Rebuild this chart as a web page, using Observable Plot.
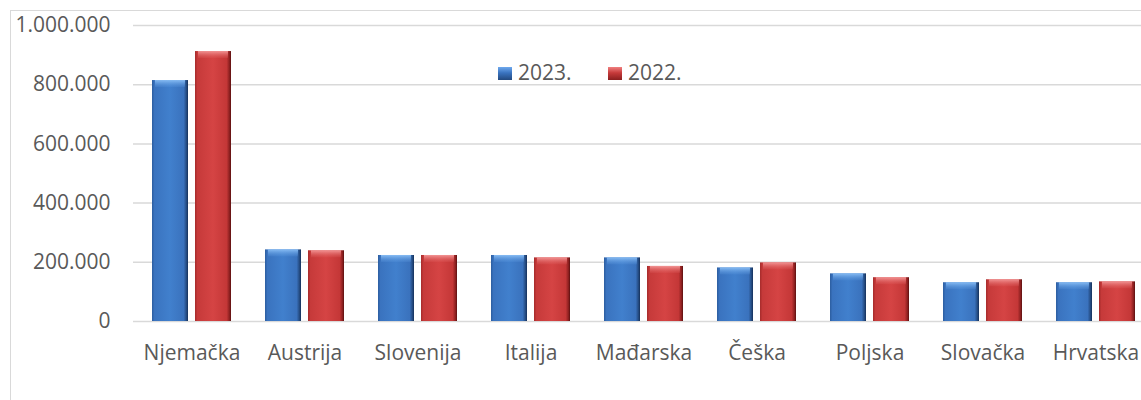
<!DOCTYPE html>
<html><head><meta charset="utf-8">
<script src="https://cdn.jsdelivr.net/npm/d3@7"></script>
<script src="https://cdn.jsdelivr.net/npm/@observablehq/plot@0.6"></script>
<style>
html,body{margin:0;padding:0;background:#fff;overflow:hidden;width:1141px;height:400px;}
#wrap{position:relative;width:1141px;height:400px;overflow:hidden;font-family:"Open Sans",sans-serif;}
#chart{position:absolute;left:0;top:0;}
#frame{position:absolute;left:10px;top:10px;width:1300px;height:600px;border:1px solid #d9d9d9;pointer-events:none;}
.item{position:absolute;top:58px;font-size:21px;color:#595959;white-space:nowrap;line-height:28px;}
.sw{position:absolute;left:0;top:9px;width:14px;height:13px;}
.item span.t{position:absolute;left:20px;top:0;}
</style></head><body>
<div id="wrap"><div id="frame"></div><div id="chart"></div><div id="legend"></div></div>
<script>
const countries = ["Njemačka","Austrija","Slovenija","Italija","Mađarska","Češka","Poljska","Slovačka","Hrvatska"];
const seriesNames = ["2023.","2022."];
const values2023 = [814000, 242000, 223000, 223000, 215000, 181000, 161000, 131000, 131000];
const values2022 = [912000, 239000, 223000, 215000, 186000, 198000, 148000, 141000, 134000];
const yTicks = [0, 200000, 400000, 600000, 800000, 1000000];

const rows2023 = countries.map((c, i) => ({country: c, series: seriesNames[0], value: values2023[i]}));
const rows2022 = countries.map((c, i) => ({country: c, series: seriesNames[1], value: values2022[i]}));

const fmt = d3.formatLocale({decimal: ",", thousands: ".", grouping: [3], currency: ["", "€"]}).format(",");

const svg = Plot.plot({
  width: 1160, height: 400,
  marginTop: 25, marginBottom: 79, marginLeft: 133, marginRight: 7,
  style: {fontFamily: '"Open Sans", sans-serif', fontSize: "21px", color: "#595959", background: "transparent", maxWidth: "none", overflow: "visible"},
  x: {domain: countries, paddingInner: 0.303, paddingOuter: 0.15, label: null, tickSize: 0, tickPadding: 24},
  y: {domain: [0, 1000000], ticks: yTicks, tickFormat: fmt, label: null, tickSize: 0, tickPadding: 23},
  marks: [
    Plot.ruleY(yTicks, {stroke: "#d9d9d9", strokeWidth: 1.5}),
    Plot.barY(rows2023, {x: "country", y: "value", insetRight: 43, fill: "url(#gBlue)", ariaLabel: "bar-main"}),
    Plot.barY(rows2022, {x: "country", y: "value", insetLeft: 43, fill: "url(#gRed)", ariaLabel: "bar-main"}),
    Plot.barY(rows2023, {x: "country", y1: "value", y2: "value", insetRight: 46, insetLeft: 3, insetBottom: -7, fill: "url(#cBlue)"}),
    Plot.barY(rows2022, {x: "country", y1: "value", y2: "value", insetLeft: 46, insetRight: 3, insetBottom: -7, fill: "url(#cRed)"})
  ]
});

const s = d3.select(svg);
const defs = s.insert("defs", ":first-child");
function grad(id, stops, vertical) {
  const g = defs.append("linearGradient").attr("id", id)
    .attr("x1", 0).attr("y1", 0).attr("x2", vertical ? 0 : 1).attr("y2", vertical ? 1 : 0);
  stops.forEach(([o, c, op]) => g.append("stop").attr("offset", o).attr("stop-color", c).attr("stop-opacity", op ?? 1));
}
grad("gBlue", [[0, "#2c5d9f"], [0.07, "#3a73bf"], [0.5, "#4180cd"], [0.88, "#3a72bd"], [0.96, "#23497e"], [1, "#15305a"]]);
grad("gRed", [[0, "#a52b2b"], [0.07, "#c63a3a"], [0.5, "#d54444"], [0.88, "#c43737"], [0.96, "#8a1f1f"], [1, "#5a1010"]]);
grad("cBlue", [[0, "#8cc0f6", 0.95], [1, "#5b98df", 0.2]], true);
grad("cRed", [[0, "#f49a9a", 0.95], [1, "#e06060", 0.2]], true);
const f = defs.append("filter").attr("id", "shadow").attr("x", "-20%").attr("y", "-5%").attr("width", "140%").attr("height", "115%");
f.append("feDropShadow").attr("dx", 1).attr("dy", 2).attr("stdDeviation", 1.5).attr("flood-color", "#000").attr("flood-opacity", 0.35);
s.selectAll('g[aria-label="bar-main"]').attr("filter", "url(#shadow)");

document.getElementById("chart").appendChild(svg);

const legend = d3.select("#legend");
const swatch = {"2023.": "linear-gradient(180deg,#6fa9ee 0%,#3a73bf 45%,#23497e 100%)", "2022.": "linear-gradient(180deg,#f08080 0%,#c63a3a 45%,#8a1f1f 100%)"};
const legendX = [498, 608];
seriesNames.forEach((name, i) => {
  const it = legend.append("div").attr("class", "item").style("left", legendX[i] + "px");
  it.append("div").attr("class", "sw").style("background", swatch[name]);
  it.append("span").attr("class", "t").text(name);
});
</script>
</body></html>
